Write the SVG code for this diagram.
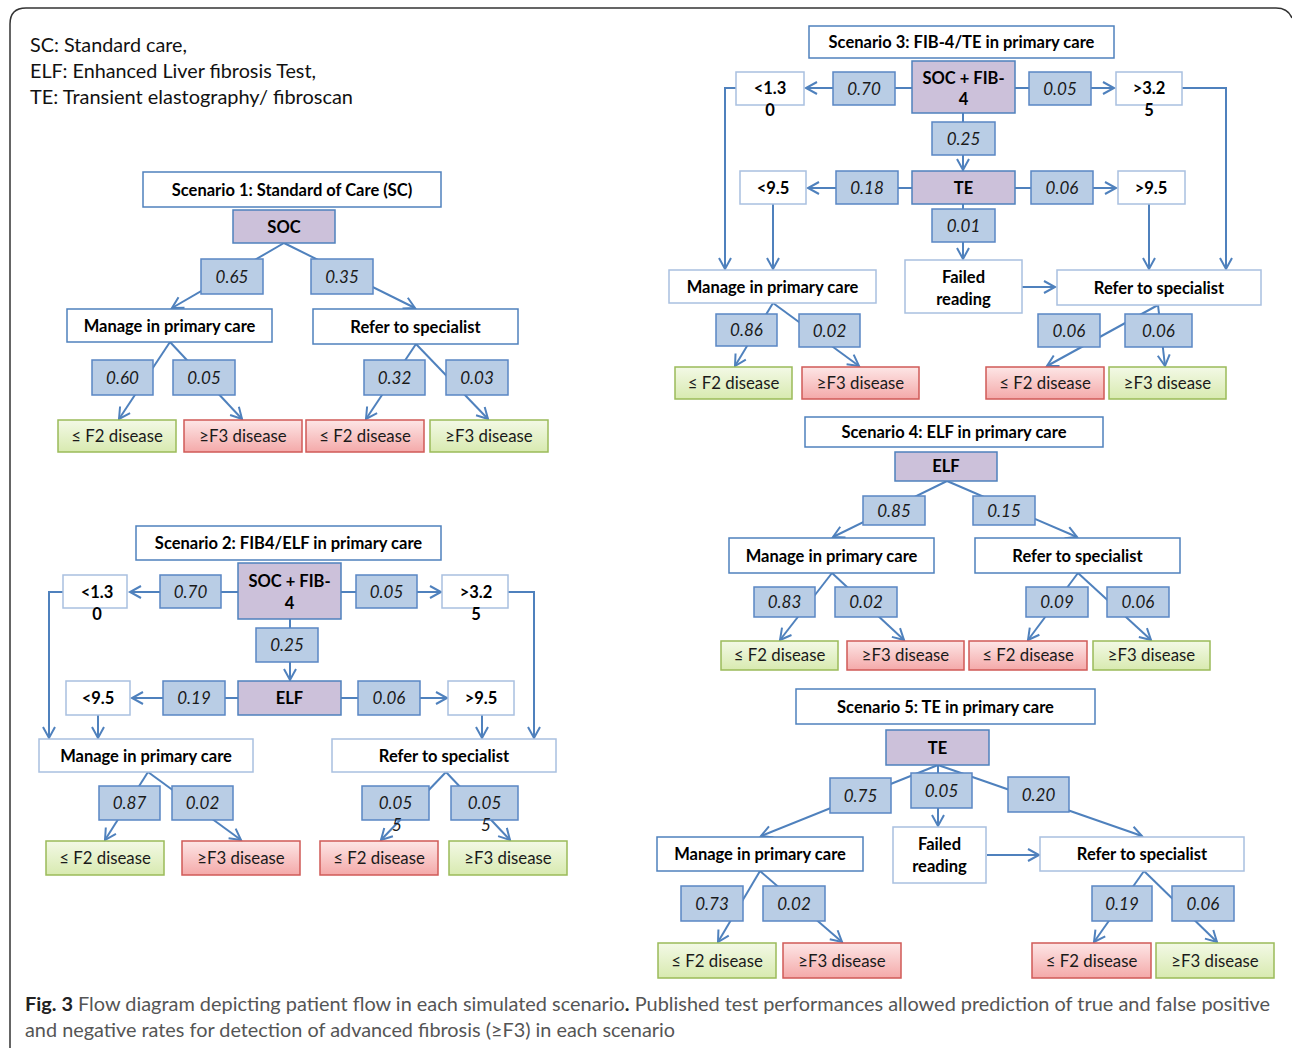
<svg xmlns="http://www.w3.org/2000/svg" width="1292" height="1048" viewBox="0 0 1292 1048">
<defs>
<linearGradient id="gg" x1="0" y1="0" x2="0" y2="1"><stop offset="0" stop-color="#f3f9e6"/><stop offset="1" stop-color="#d8eab0"/></linearGradient>
<linearGradient id="gr" x1="0" y1="0" x2="0" y2="1"><stop offset="0" stop-color="#fde6e6"/><stop offset="1" stop-color="#f4a9a9"/></linearGradient>
<marker id="a" markerWidth="14" markerHeight="14" refX="11" refY="6" orient="auto" markerUnits="userSpaceOnUse" overflow="visible"><path d="M0,0 L11,6 L0,12" fill="none" stroke="#4f81bd" stroke-width="2"/></marker>
<style>
.t{fill:#fff;stroke:#4f81bd;stroke-width:1.5}
.k{fill:#ccc1da;stroke:#4f81bd;stroke-width:1.5}
.p{fill:#b9cde5;stroke:#5a86c4;stroke-width:1.5}
.w{fill:#fff;stroke:#4f81bd;stroke-width:1.5}
.wl{fill:#fff;stroke:#a9c0e0;stroke-width:1.5}
.g{fill:url(#gg);stroke:#9bbb59;stroke-width:1.5}
.r{fill:url(#gr);stroke:#d05a57;stroke-width:1.5}
text{font-family:Lato,"Liberation Sans",sans-serif;text-anchor:middle;fill:#000}
.tb{font-weight:bold;font-size:16.5px}
.ti{font-style:italic;font-size:17px;fill:#1a1a1a}
.tr{font-size:16.8px;fill:#1a1a1a}
.c line,.c polyline{stroke:#4f81bd;stroke-width:2;fill:none}
.ar{marker-end:url(#a)}
.lg{text-anchor:start;font-size:19px;fill:#111}
.cap{text-anchor:start;font-size:19px;fill:#555}
</style>
</defs>
<rect x="0" y="0" width="1292" height="1048" fill="#fff"/>
<path d="M10,1048 L10,24 Q10,8 26,8 L1276,8 Q1288,8 1292,18" fill="none" stroke="#333" stroke-width="1.5"/>
<text class="lg" x="30" y="52" textLength="157" lengthAdjust="spacingAndGlyphs">SC: Standard care,</text>
<text class="lg" x="30" y="78" textLength="286" lengthAdjust="spacingAndGlyphs">ELF: Enhanced Liver fibrosis Test,</text>
<text class="lg" x="30" y="104" textLength="323" lengthAdjust="spacingAndGlyphs">TE: Transient elastography/ fibroscan</text>

<g class="c" id="connectors">
<line class="ar" x1="284" y1="243" x2="172" y2="308"/>
<line class="ar" x1="284" y1="243" x2="415" y2="308"/>
<line class="ar" x1="170" y1="342" x2="119" y2="419"/>
<line class="ar" x1="170" y1="342" x2="242" y2="419"/>
<line class="ar" x1="416" y1="344" x2="366" y2="419"/>
<line class="ar" x1="416" y1="344" x2="488" y2="419"/>

<line class="ar" x1="238" y1="592" x2="130" y2="592"/>
<line class="ar" x1="341" y1="592" x2="441" y2="592"/>
<line class="ar" x1="290" y1="619" x2="290" y2="680"/>
<line class="ar" x1="238" y1="698" x2="132" y2="698"/>
<line class="ar" x1="341" y1="698" x2="447" y2="698"/>
<polyline class="ar" points="63,592 49,592 49,738"/>
<polyline class="ar" points="508,592 534,592 534,738"/>
<line class="ar" x1="98" y1="715" x2="98" y2="738"/>
<line class="ar" x1="482" y1="715" x2="482" y2="738"/>
<line class="ar" x1="148" y1="772" x2="105" y2="840"/>
<line class="ar" x1="148" y1="772" x2="241" y2="840"/>
<line class="ar" x1="446" y1="772" x2="381" y2="840"/>
<line class="ar" x1="446" y1="772" x2="510" y2="840"/>

<line class="ar" x1="912" y1="88" x2="806" y2="88"/>
<line class="ar" x1="1015" y1="88" x2="1114" y2="88"/>
<line class="ar" x1="963" y1="113" x2="963" y2="170"/>
<line class="ar" x1="912" y1="188" x2="808" y2="188"/>
<line class="ar" x1="1015" y1="188" x2="1116" y2="188"/>
<line class="ar" x1="963" y1="204" x2="963" y2="259"/>
<polyline class="ar" points="736,88 725,88 725,269"/>
<polyline class="ar" points="1182,88 1226,88 1226,269"/>
<line class="ar" x1="773" y1="204" x2="773" y2="269"/>
<line class="ar" x1="1149" y1="204" x2="1149" y2="269"/>
<line class="ar" x1="1022" y1="287" x2="1055" y2="287"/>
<line class="ar" x1="773" y1="303" x2="735" y2="366"/>
<line class="ar" x1="773" y1="303" x2="859" y2="366"/>
<line class="ar" x1="1158" y1="305" x2="1047" y2="366"/>
<line class="ar" x1="1158" y1="305" x2="1165" y2="366"/>

<line class="ar" x1="947" y1="481" x2="833" y2="537"/>
<line class="ar" x1="947" y1="481" x2="1077" y2="537"/>
<line class="ar" x1="832" y1="573" x2="780" y2="640"/>
<line class="ar" x1="832" y1="573" x2="904" y2="640"/>
<line class="ar" x1="1078" y1="573" x2="1028" y2="640"/>
<line class="ar" x1="1078" y1="573" x2="1151" y2="640"/>

<line class="ar" x1="938" y1="765" x2="761" y2="836"/>
<line class="ar" x1="938" y1="765" x2="1142" y2="836"/>
<line class="ar" x1="938" y1="765" x2="938" y2="826"/>
<line class="ar" x1="987" y1="855" x2="1039" y2="855"/>
<line class="ar" x1="760" y1="871" x2="718" y2="942"/>
<line class="ar" x1="760" y1="871" x2="842" y2="942"/>
<line class="ar" x1="1144" y1="871" x2="1094" y2="942"/>
<line class="ar" x1="1144" y1="871" x2="1217" y2="942"/>
</g>

<!-- Scenario 1 -->
<g id="s1-title"><rect class="t" x="143" y="172" width="298" height="35"/><text class="tb" x="292" y="196">Scenario 1: Standard of Care (SC)</text></g>
<g id="s1-soc"><rect class="k" x="233" y="210" width="102" height="33"/><text class="tb" x="284" y="233">SOC</text></g>
<g id="s1-p065"><rect class="p" x="201" y="259" width="62" height="35"/><text class="ti" x="232" y="283">0.65</text></g>
<g id="s1-p035"><rect class="p" x="311" y="259" width="62" height="35"/><text class="ti" x="342" y="283">0.35</text></g>
<g id="s1-manage"><rect class="w" x="67" y="309" width="205" height="33"/><text class="tb" x="169.5" y="332">Manage in primary care</text></g>
<g id="s1-refer"><rect class="w" x="313" y="309" width="205" height="35"/><text class="tb" x="415.5" y="333">Refer to specialist</text></g>
<g id="s1-p060"><rect class="p" x="92" y="360" width="61" height="35"/><text class="ti" x="122.5" y="384">0.60</text></g>
<g id="s1-p005"><rect class="p" x="173" y="360" width="62" height="35"/><text class="ti" x="204" y="384">0.05</text></g>
<g id="s1-p032"><rect class="p" x="364" y="360" width="61" height="35"/><text class="ti" x="394.5" y="384">0.32</text></g>
<g id="s1-p003"><rect class="p" x="446" y="360" width="62" height="35"/><text class="ti" x="477" y="384">0.03</text></g>
<g id="s1-l1"><rect class="g" x="58" y="420" width="118" height="32"/><text class="tr" x="117" y="442">≤ F2 disease</text></g>
<g id="s1-l2"><rect class="r" x="184" y="420" width="118" height="32"/><text class="tr" x="243" y="442">≥F3 disease</text></g>
<g id="s1-l3"><rect class="r" x="306" y="420" width="118" height="32"/><text class="tr" x="365" y="442">≤ F2 disease</text></g>
<g id="s1-l4"><rect class="g" x="430" y="420" width="118" height="32"/><text class="tr" x="489" y="442">≥F3 disease</text></g>

<!-- Scenario 2 -->
<g id="s2-title"><rect class="t" x="136" y="526" width="305" height="34"/><text class="tb" x="288.5" y="549">Scenario 2: FIB4/ELF in primary care</text></g>
<g id="s2-fib"><rect class="k" x="238" y="563" width="103" height="56"/><text class="tb" x="289.5" y="587">SOC + FIB-</text><text class="tb" x="289.5" y="609">4</text></g>
<g id="s2-p070"><rect class="p" x="160" y="575" width="61" height="33"/><text class="ti" x="190.5" y="598">0.70</text></g>
<g id="s2-p005"><rect class="p" x="356" y="575" width="61" height="33"/><text class="ti" x="386.5" y="598">0.05</text></g>
<g id="s2-lt13"><rect class="wl" x="63" y="575" width="64" height="33"/><text class="tb" x="97" y="598">&lt;1.3</text><text class="tb" x="97" y="620">0</text></g>
<g id="s2-gt32"><rect class="wl" x="442" y="575" width="66" height="33"/><text class="tb" x="476" y="598">&gt;3.2</text><text class="tb" x="476" y="620">5</text></g>
<g id="s2-p025"><rect class="p" x="256" y="628" width="62" height="34"/><text class="ti" x="287" y="651">0.25</text></g>
<g id="s2-elf"><rect class="k" x="238" y="681" width="103" height="34"/><text class="tb" x="289.5" y="704">ELF</text></g>
<g id="s2-p019"><rect class="p" x="163" y="681" width="62" height="34"/><text class="ti" x="194" y="704">0.19</text></g>
<g id="s2-p006"><rect class="p" x="358" y="681" width="62" height="34"/><text class="ti" x="389" y="704">0.06</text></g>
<g id="s2-lt95"><rect class="wl" x="66" y="681" width="64" height="34"/><text class="tb" x="98" y="704">&lt;9.5</text></g>
<g id="s2-gt95"><rect class="wl" x="448" y="681" width="66" height="34"/><text class="tb" x="481" y="704">&gt;9.5</text></g>
<g id="s2-manage"><rect class="wl" x="39" y="739" width="214" height="33"/><text class="tb" x="146" y="762">Manage in primary care</text></g>
<g id="s2-refer"><rect class="wl" x="332" y="739" width="224" height="33"/><text class="tb" x="444" y="762">Refer to specialist</text></g>
<g id="s2-p087"><rect class="p" x="99" y="786" width="61" height="34"/><text class="ti" x="129.5" y="809">0.87</text></g>
<g id="s2-p002"><rect class="p" x="172" y="786" width="61" height="34"/><text class="ti" x="202.5" y="809">0.02</text></g>
<g id="s2-p0055a"><rect class="p" x="362" y="786" width="67" height="34"/><text class="ti" x="395.5" y="809">0.05</text><text class="ti" x="397" y="831">5</text></g>
<g id="s2-p0055b"><rect class="p" x="451" y="786" width="67" height="34"/><text class="ti" x="484.5" y="809">0.05</text><text class="ti" x="486" y="831">5</text></g>
<g id="s2-l1"><rect class="g" x="46" y="841" width="118" height="34"/><text class="tr" x="105" y="864">≤ F2 disease</text></g>
<g id="s2-l2"><rect class="r" x="182" y="841" width="118" height="34"/><text class="tr" x="241" y="864">≥F3 disease</text></g>
<g id="s2-l3"><rect class="r" x="320" y="841" width="118" height="34"/><text class="tr" x="379" y="864">≤ F2 disease</text></g>
<g id="s2-l4"><rect class="g" x="449" y="841" width="118" height="34"/><text class="tr" x="508" y="864">≥F3 disease</text></g>

<!-- Scenario 3 -->
<g id="s3-title"><rect class="t" x="809" y="26" width="305" height="32"/><text class="tb" x="961.5" y="48">Scenario 3: FIB-4/TE in primary care</text></g>
<g id="s3-fib"><rect class="k" x="912" y="61" width="103" height="52"/><text class="tb" x="963.5" y="84">SOC + FIB-</text><text class="tb" x="963.5" y="105">4</text></g>
<g id="s3-p070"><rect class="p" x="833" y="72" width="62" height="33"/><text class="ti" x="864" y="95">0.70</text></g>
<g id="s3-lt13"><rect class="wl" x="736" y="72" width="68" height="33"/><text class="tb" x="770" y="94">&lt;1.3</text><text class="tb" x="770" y="116">0</text></g>
<g id="s3-p005"><rect class="p" x="1029" y="72" width="62" height="33"/><text class="ti" x="1060" y="95">0.05</text></g>
<g id="s3-gt32"><rect class="wl" x="1116" y="72" width="66" height="33"/><text class="tb" x="1149" y="94">&gt;3.2</text><text class="tb" x="1149" y="116">5</text></g>
<g id="s3-p025"><rect class="p" x="932" y="122" width="63" height="33"/><text class="ti" x="963.5" y="145">0.25</text></g>
<g id="s3-te"><rect class="k" x="912" y="171" width="103" height="33"/><text class="tb" x="963.5" y="194">TE</text></g>
<g id="s3-p018"><rect class="p" x="836" y="171" width="62" height="33"/><text class="ti" x="867" y="194">0.18</text></g>
<g id="s3-lt95"><rect class="wl" x="740" y="171" width="66" height="33"/><text class="tb" x="773" y="194">&lt;9.5</text></g>
<g id="s3-p006"><rect class="p" x="1031" y="171" width="62" height="33"/><text class="ti" x="1062" y="194">0.06</text></g>
<g id="s3-gt95"><rect class="wl" x="1118" y="171" width="67" height="33"/><text class="tb" x="1151" y="194">&gt;9.5</text></g>
<g id="s3-p001"><rect class="p" x="932" y="209" width="63" height="33"/><text class="ti" x="963.5" y="232">0.01</text></g>
<g id="s3-failed"><rect class="wl" x="905" y="260" width="117" height="53"/><text class="tb" x="963.5" y="283">Failed</text><text class="tb" x="963.5" y="305">reading</text></g>
<g id="s3-manage"><rect class="wl" x="669" y="270" width="207" height="33"/><text class="tb" x="772.5" y="293">Manage in primary care</text></g>
<g id="s3-refer"><rect class="wl" x="1057" y="270" width="204" height="35"/><text class="tb" x="1159" y="294">Refer to specialist</text></g>
<g id="s3-p086"><rect class="p" x="716" y="314" width="61" height="32"/><text class="ti" x="746.5" y="336">0.86</text></g>
<g id="s3-p002"><rect class="p" x="799" y="314" width="61" height="33"/><text class="ti" x="829.5" y="337">0.02</text></g>
<g id="s3-p006a"><rect class="p" x="1038" y="314" width="62" height="33"/><text class="ti" x="1069" y="337">0.06</text></g>
<g id="s3-p006b"><rect class="p" x="1125" y="314" width="67" height="33"/><text class="ti" x="1158.5" y="337">0.06</text></g>
<g id="s3-l1"><rect class="g" x="675" y="367" width="117" height="32"/><text class="tr" x="733.5" y="389">≤ F2 disease</text></g>
<g id="s3-l2"><rect class="r" x="802" y="367" width="117" height="32"/><text class="tr" x="860.5" y="389">≥F3 disease</text></g>
<g id="s3-l3"><rect class="r" x="986" y="367" width="118" height="32"/><text class="tr" x="1045" y="389">≤ F2 disease</text></g>
<g id="s3-l4"><rect class="g" x="1109" y="367" width="117" height="32"/><text class="tr" x="1167.5" y="389">≥F3 disease</text></g>

<!-- Scenario 4 -->
<g id="s4-title"><rect class="t" x="805" y="417" width="298" height="30"/><text class="tb" x="954" y="438">Scenario 4: ELF in primary care</text></g>
<g id="s4-elf"><rect class="k" x="895" y="452" width="102" height="29"/><text class="tb" x="946" y="472">ELF</text></g>
<g id="s4-p085"><rect class="p" x="863" y="496" width="62" height="29"/><text class="ti" x="894" y="517">0.85</text></g>
<g id="s4-p015"><rect class="p" x="973" y="496" width="62" height="29"/><text class="ti" x="1004" y="517">0.15</text></g>
<g id="s4-manage"><rect class="w" x="729" y="538" width="205" height="35"/><text class="tb" x="831.5" y="562">Manage in primary care</text></g>
<g id="s4-refer"><rect class="w" x="975" y="538" width="205" height="35"/><text class="tb" x="1077.5" y="562">Refer to specialist</text></g>
<g id="s4-p083"><rect class="p" x="754" y="587" width="61" height="30"/><text class="ti" x="784.5" y="608">0.83</text></g>
<g id="s4-p002"><rect class="p" x="835" y="587" width="62" height="30"/><text class="ti" x="866" y="608">0.02</text></g>
<g id="s4-p009"><rect class="p" x="1026" y="587" width="62" height="30"/><text class="ti" x="1057" y="608">0.09</text></g>
<g id="s4-p006"><rect class="p" x="1107" y="587" width="62" height="30"/><text class="ti" x="1138" y="608">0.06</text></g>
<g id="s4-l1"><rect class="g" x="721" y="641" width="117" height="29"/><text class="tr" x="779.5" y="661">≤ F2 disease</text></g>
<g id="s4-l2"><rect class="r" x="847" y="641" width="117" height="29"/><text class="tr" x="905.5" y="661">≥F3 disease</text></g>
<g id="s4-l3"><rect class="r" x="969" y="641" width="118" height="29"/><text class="tr" x="1028" y="661">≤ F2 disease</text></g>
<g id="s4-l4"><rect class="g" x="1093" y="641" width="117" height="29"/><text class="tr" x="1151.5" y="661">≥F3 disease</text></g>

<!-- Scenario 5 -->
<g id="s5-title"><rect class="t" x="796" y="689" width="299" height="35"/><text class="tb" x="945.5" y="713">Scenario 5: TE in primary care</text></g>
<g id="s5-te"><rect class="k" x="886" y="730" width="103" height="35"/><text class="tb" x="937.5" y="754">TE</text></g>
<g id="s5-p075"><rect class="p" x="830" y="778" width="61" height="35"/><text class="ti" x="860.5" y="802">0.75</text></g>
<g id="s5-p005"><rect class="p" x="911" y="773" width="61" height="35"/><text class="ti" x="941.5" y="797">0.05</text></g>
<g id="s5-p020"><rect class="p" x="1008" y="777" width="61" height="35"/><text class="ti" x="1038.5" y="801">0.20</text></g>
<g id="s5-manage"><rect class="w" x="657" y="837" width="206" height="34"/><text class="tb" x="760" y="860">Manage in primary care</text></g>
<g id="s5-failed"><rect class="wl" x="893" y="827" width="93" height="56"/><text class="tb" x="939.5" y="850">Failed</text><text class="tb" x="939.5" y="872">reading</text></g>
<g id="s5-refer"><rect class="wl" x="1040" y="837" width="204" height="34"/><text class="tb" x="1142" y="860">Refer to specialist</text></g>
<g id="s5-p073"><rect class="p" x="681" y="886" width="62" height="35"/><text class="ti" x="712" y="910">0.73</text></g>
<g id="s5-p002"><rect class="p" x="763" y="886" width="62" height="35"/><text class="ti" x="794" y="910">0.02</text></g>
<g id="s5-p019"><rect class="p" x="1092" y="886" width="60" height="35"/><text class="ti" x="1122" y="910">0.19</text></g>
<g id="s5-p006"><rect class="p" x="1172" y="886" width="62" height="35"/><text class="ti" x="1203" y="910">0.06</text></g>
<g id="s5-l1"><rect class="g" x="658" y="943" width="118" height="35"/><text class="tr" x="717" y="967">≤ F2 disease</text></g>
<g id="s5-l2"><rect class="r" x="783" y="943" width="118" height="35"/><text class="tr" x="842" y="967">≥F3 disease</text></g>
<g id="s5-l3"><rect class="r" x="1032" y="943" width="119" height="35"/><text class="tr" x="1091.5" y="967">≤ F2 disease</text></g>
<g id="s5-l4"><rect class="g" x="1156" y="943" width="118" height="35"/><text class="tr" x="1215" y="967">≥F3 disease</text></g>

<text class="cap" x="25" y="1011" textLength="1245" lengthAdjust="spacingAndGlyphs"><tspan font-weight="bold" fill="#222">Fig. 3</tspan> Flow diagram depicting patient flow in each simulated scenario<tspan font-weight="bold" fill="#222">.</tspan> Published test performances allowed prediction of true and false positive</text>
<text class="cap" x="25" y="1037" textLength="650" lengthAdjust="spacingAndGlyphs">and negative rates for detection of advanced fibrosis (≥F3) in each scenario</text>
</svg>
